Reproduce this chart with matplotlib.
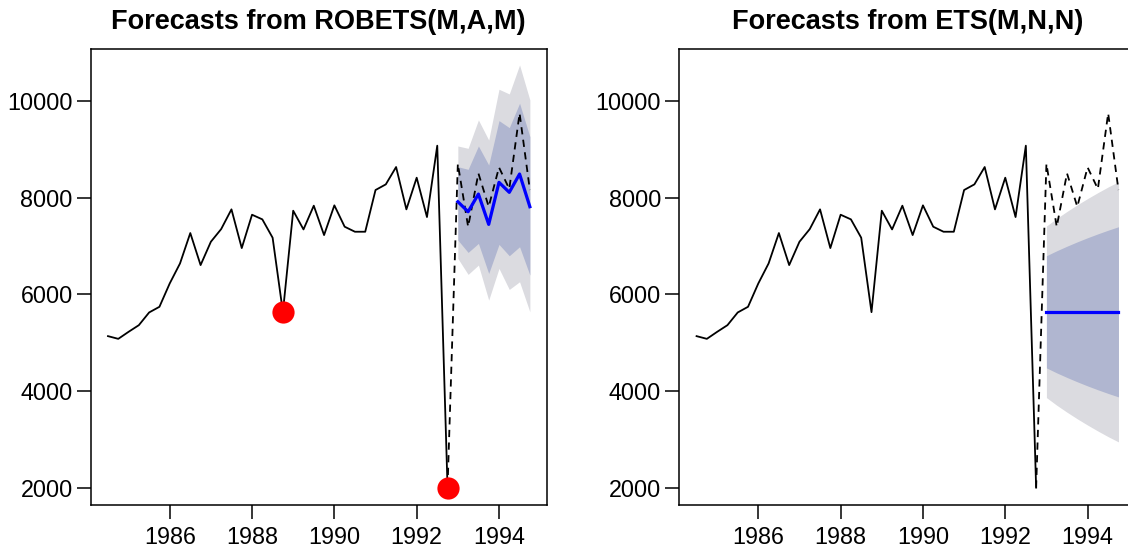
import matplotlib
matplotlib.use("Agg")
import matplotlib.pyplot as plt
import numpy as np

plt.rcParams['font.family'] = ['Liberation Sans', 'DejaVu Sans']

# quarterly series, first observation 1984 Q3
start = 1984.5
sales = [5134, 5078, 5223, 5361, 5624, 5741, 6224, 6638, 7267, 6604,
         7087, 7349, 7757, 6956, 7646, 7550, 7170, 5630, 7729, 7342,
         7833, 7225, 7840, 7398, 7294, 7294, 8157, 8274, 8633, 7757,
         8412, 7598, 9075, 2000]
test = [8700, 7398, 8502, 7812, 8626, 8180, 9745, 8157]

outlier_times = [1988.75, 1992.75]
outlier_values = [5630, 2000]

# ROBETS(M,A,M) forecasts
rob_mean = [7915, 7708, 8074, 7446, 8316, 8109, 8488, 7812]
rob_lo80 = [7122, 6866, 7053, 6431, 7032, 6797, 6983, 6397]
rob_hi80 = [8640, 8585, 9068, 8675, 9593, 9448, 9952, 9261]
rob_lo95 = [6742, 6411, 6604, 5879, 6535, 6100, 6259, 5637]
rob_hi95 = [9068, 9020, 9607, 9192, 10242, 10145, 10745, 10021]

# ETS(M,N,N) forecasts
ets_mean = [5637, 5637, 5637, 5637, 5637, 5637, 5637, 5637]
ets_lo80 = [4477, 4374, 4279, 4189, 4104, 4024, 3948, 3877]
ets_hi80 = [6797, 6900, 6995, 7085, 7170, 7250, 7326, 7397]
ets_lo95 = [3863, 3705, 3560, 3423, 3294, 3171, 3054, 2946]
ets_hi95 = [7411, 7569, 7714, 7851, 7980, 8103, 8220, 8328]

t_train = start + np.arange(len(sales)) / 4
t_test = t_train[-1] + 0.25 + np.arange(len(test)) / 4

fig = plt.figure(figsize=(11.28, 5.5), dpi=100)
ax1 = fig.add_axes([0.0804, 0.0818, 0.4043, 0.830])
ax2 = fig.add_axes([0.6022, 0.0818, 0.4043, 0.830])


def draw(ax, title, mean, lo80, hi80, lo95, hi95, outliers):
    ax.fill_between(t_test, lo95, hi95, color='#DBDBE0', lw=0)
    ax.fill_between(t_test, lo80, hi80, color='#B0B6D0', lw=0)
    ax.plot(t_train, sales, color='black', lw=1.3)
    ax.plot(np.r_[t_train[-1], t_test], np.r_[sales[-1], test],
            color='black', lw=1.3, ls=(0, (4, 3)))
    ax.plot(t_test, mean, color='#0000FF', lw=2.3)
    if outliers:
        ax.plot(outlier_times, outlier_values, 'o', color='red', ms=16,
                mec='none', zorder=5)
    ax.set_xlim(1984.08, 1995.16)
    ax.set_ylim(1640, 11085)
    ax.set_xticks([1986, 1988, 1990, 1992, 1994])
    ax.set_yticks([2000, 4000, 6000, 8000, 10000])
    ax.tick_params(direction='out', length=10, width=1.1, labelsize=16.8)
    ax.tick_params(axis='x', pad=5)
    ax.tick_params(axis='y', pad=3)
    for s in ax.spines.values():
        s.set_linewidth(1.1)
    ax.set_title(title, fontsize=19.5, fontweight='bold', pad=14)


draw(ax1, 'Forecasts from ROBETS(M,A,M)', rob_mean, rob_lo80, rob_hi80,
     rob_lo95, rob_hi95, True)
draw(ax2, 'Forecasts from ETS(M,N,N)', ets_mean, ets_lo80, ets_hi80,
     ets_lo95, ets_hi95, False)

fig.savefig('out.png', dpi=100)
